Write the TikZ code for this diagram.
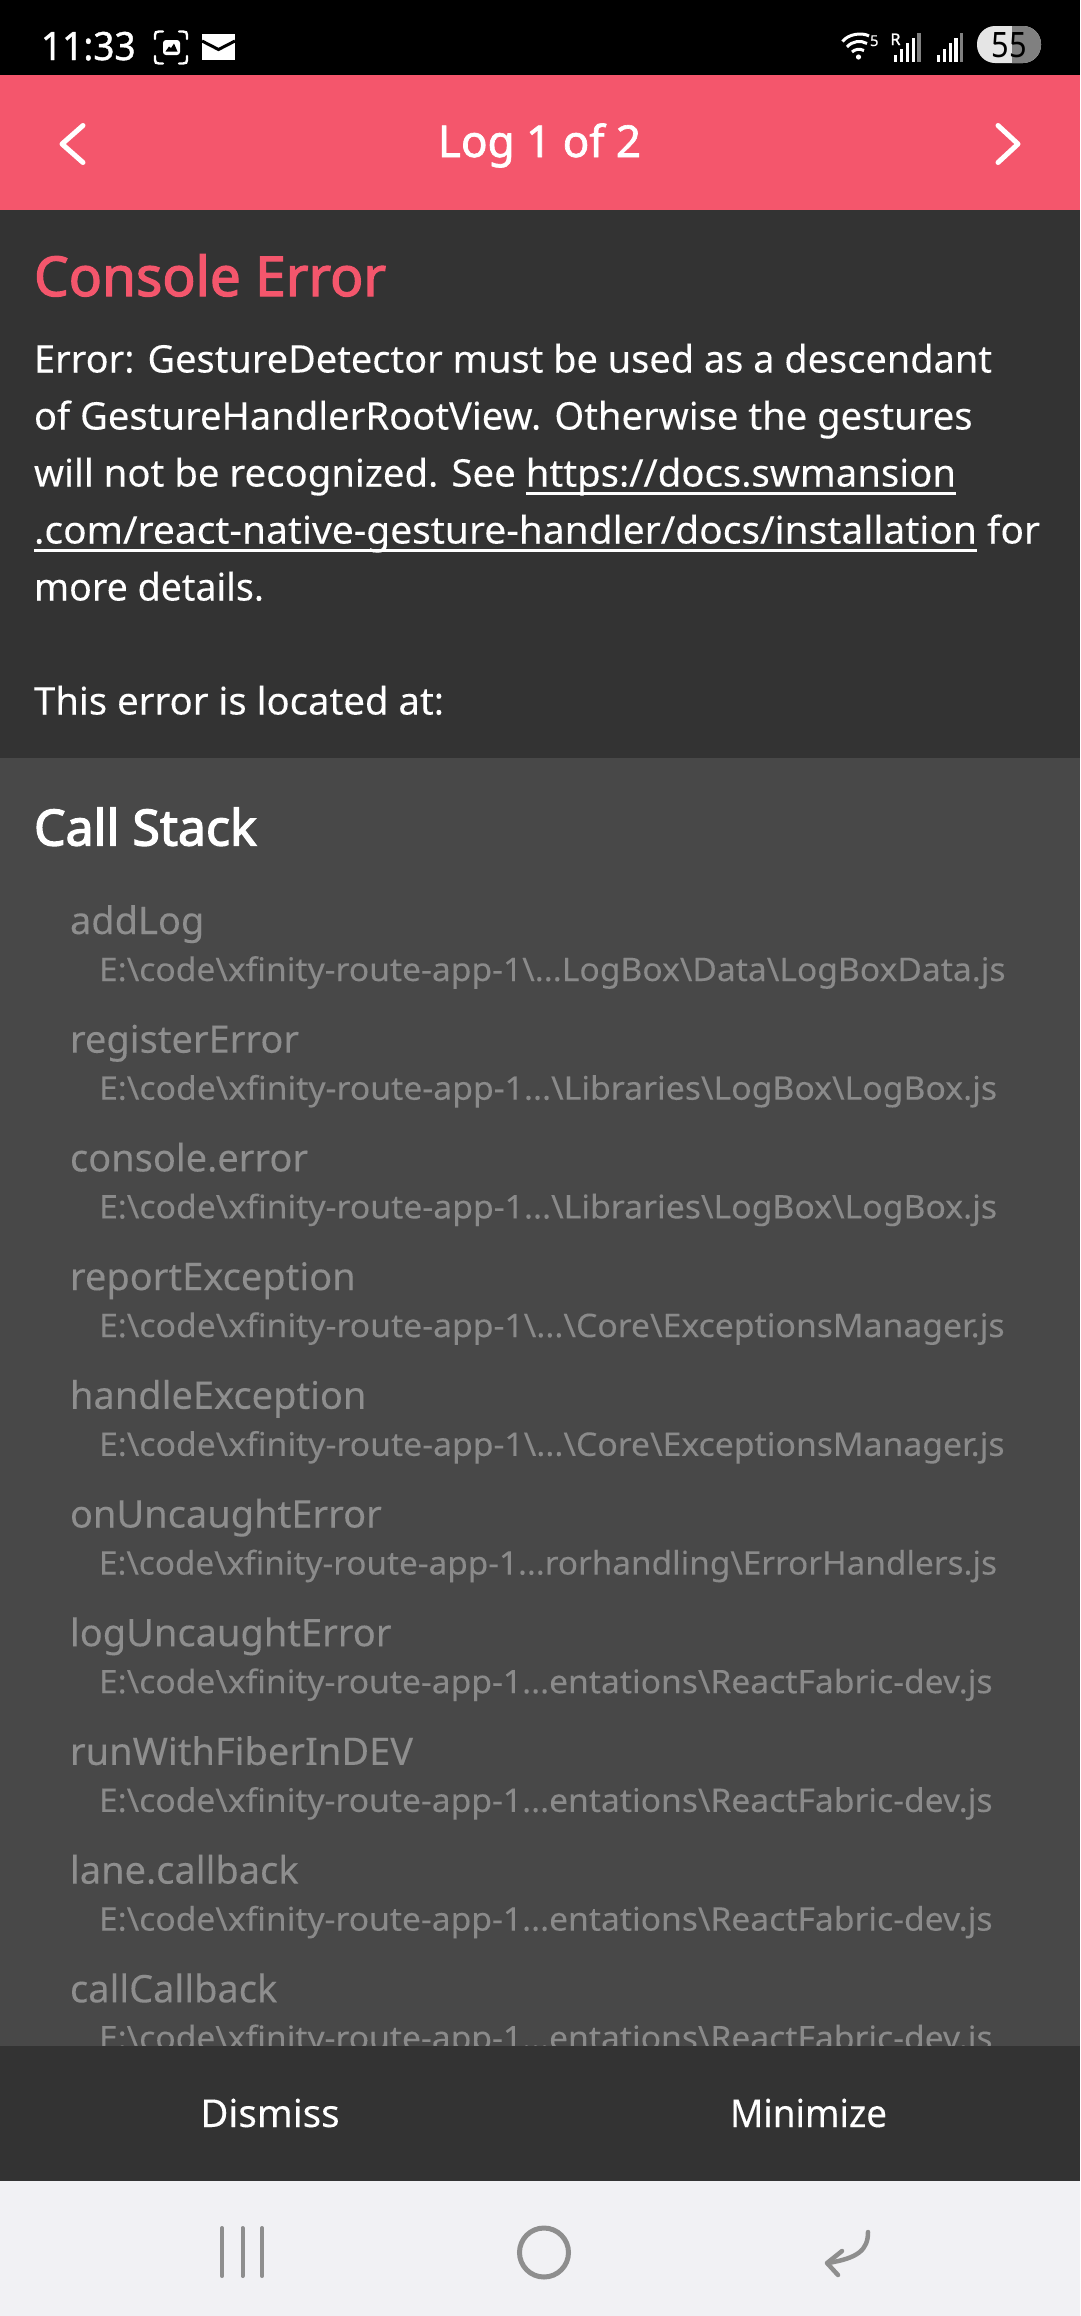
\documentclass[tikz,border=0pt]{standalone}
\usepackage{fontspec}
\usepackage{graphicx}
\setmainfont{Noto Sans}
\newfontfamily\narrowf[FakeStretch=0.88]{Noto Sans}
\newfontfamily\bodyf[FakeBold=0.15]{Noto Sans}
\newfontfamily\filef[FakeStretch=1.04,FakeBold=0.1]{Noto Sans}
\newfontfamily\headf[FakeBold=2.2]{Noto Sans}
\newfontfamily\medf[FakeBold=1.5]{Noto Sans}
\newfontfamily\callf[FakeBold=2.6]{Noto Sans}
\newfontfamily\timef[FakeStretch=0.95,FakeBold=1]{Noto Sans}
\definecolor{pinkbar}{HTML}{F4566C}
\definecolor{darkbar}{HTML}{333333}
\definecolor{stackbg}{HTML}{484848}
\definecolor{methodc}{HTML}{8E8E8E}
\definecolor{filec}{HTML}{8A8A8A}
\definecolor{navbg}{HTML}{F1F1F4}
\definecolor{navic}{HTML}{8E8E8E}
\newcommand{\bs}{\textbackslash}
\newcommand{\lnk}[1]{\setbox0\hbox{#1}\rlap{\raisebox{-8pt}{\rule{\wd0}{2.4pt}}}\box0\relax}
\newcommand{\fs}[1]{\fontsize{#1}{#1}\selectfont}
\newcommand{\fit}[2]{\resizebox{#1pt}{\height}{#2}}
\tikzset{
  txt/.style={inner sep=0pt,outer sep=0pt,anchor=base west},
  bodytxt/.style={txt,text=white,font=\bodyf\fs{38}},
  methodtxt/.style={txt,text=methodc,font=\bodyf\fs{38}},
  filetxt/.style={txt,text=filec,font=\filef\fs{32.5}},
  btntxt/.style={txt,anchor=base,text=white,font=\bodyf\fs{38.5}},
  chev/.style={white,line width=5pt,line cap=round,line join=round},
  navicon/.style={navic,line width=4.5pt,line cap=round,line join=round}
}
\newcommand{\stackrow}[4]{%
  \node[methodtxt] (m#1) at (70,{934+118.7*#1}) {#2};
  \node[filetxt] (f#1) at (99,{981+118.7*#1}) {\fit{#4}{#3}};}
\newcommand{\sigbars}[1]{%
  \fill[white] ({#1},{10+135/3}) rectangle ({#1+10/3},{10+155/3});
  \fill[white] ({#1+18/3},{10+118/3}) rectangle ({#1+28/3},{10+155/3});
  \fill[white] ({#1+36/3},{10+100/3}) rectangle ({#1+46/3},{10+155/3});
  \fill[white] ({#1+53/3},{10+85/3}) rectangle ({#1+63/3},{10+155/3});
  \fill[gray] ({#1+70/3},{10+70/3}) rectangle ({#1+80/3},{10+155/3});}
\begin{document}
\begin{tikzpicture}[x=1pt,y=-1pt]
\useasboundingbox (0,0) rectangle (1080,2316);
% panels
\fill[black] (0,0) rectangle (1080,75);
\fill[pinkbar] (0,75) rectangle (1080,210);
\fill[darkbar] (0,210) rectangle (1080,758);
\fill[stackbg] (0,758) rectangle (1080,2046);
% status bar left
\node[txt,text=white,font=\timef\fs{39}] (time) at (41,60) {11:33};
\draw[white,line width=2.4pt,line cap=round]
  (155,39) -- (155,35) .. controls (155,32.5) and (156,31.5) .. (159,31.5) -- (163,31.5)
  (179,31.5) -- (183,31.5) .. controls (186,31.5) and (187,32.5) .. (187,35) -- (187,39)
  (187,56) -- (187,60) .. controls (187,62.5) and (186,63.5) .. (183,63.5) -- (179,63.5)
  (163,63.5) -- (159,63.5) .. controls (156,63.5) and (155,62.5) .. (155,60) -- (155,56);
\fill[white,rounded corners=3pt] (163,40) rectangle (180,55);
\fill[black] (165.5,51.5) -- (169,46.5) -- (171,48) -- (174,43.5) -- (177.5,51.5) -- cycle;
\fill[white] (202,34) rectangle (235,60);
\draw[black,line width=3pt] (202,41) -- (218.5,49.5) -- (235,41);
% status bar right
\draw[white,line width=3pt]
  (842.5,41.5) .. controls (848,34) and (862,32) .. (869,36)
  (847,47) .. controls (852,41) and (861,40) .. (867,43.5)
  (852,52) .. controls (855,49) and (860,48.5) .. (864,50.5);
\fill[white] (858.5,57) circle[radius=2.6pt];
\node[txt,text=white,font=\bodyf\fs{15}] (wifi5) at (870,46) {5};
\node[txt,text=white,font=\medf\fs{16}] (rflag) at (890.5,45) {R};
\sigbars{894}
\sigbars{936.5}
\fill[rounded corners=18pt,fill=gray!20] (977,26) rectangle (1041,63);
\begin{scope}
\clip (1012,20) rectangle (1045,70);
\fill[rounded corners=18pt,fill=gray] (977,26) rectangle (1041,63);
\end{scope}
\node[txt,anchor=base,text=black,font=\narrowf\fs{35}] (batt) at (1009,57) {55};
% header
\node[txt,anchor=base,text=white,font=\medf\fs{44}] (title) at (539.5,157) {Log 1 of 2};
\coordinate (la) at (83,125.5); \coordinate (lb) at (62,144); \coordinate (lc) at (83,162.5);
\coordinate (ra) at (998,125.5); \coordinate (rb) at (1018,144); \coordinate (rc) at (998,162.5);
\draw[chev] (la) -- (lb) -- (lc);
\draw[chev] (ra) -- (rb) -- (rc);
% error text
\node[txt,text=pinkbar,font=\headf\fs{55}] (cons) at (34,296) {Console Error};
\node[bodytxt] (l1) at (34,372.5) {\fit{958}{Error: GestureDetector must be used as a descendant}};
\node[bodytxt] (l2) at (34,429.5) {\fit{938.5}{of GestureHandlerRootView. Otherwise the gestures}};
\node[bodytxt] (l3) at (34,486.5) {\fit{922}{will not be recognized. See \lnk{https://docs.swmansion}}};
\node[bodytxt] (l4) at (34,543.5) {\fit{1006}{\lnk{.com/react-native-gesture-handler/docs/installation} for}};
\node[bodytxt] (l5) at (34,600.5) {\fit{230}{more details.}};
\node[bodytxt] (l6) at (34,714.5) {\fit{410}{This error is located at:}};
% call stack
\node[txt,text=white,font=\callf\fs{50}] (cs) at (34,845.5) {Call Stack};
\stackrow{0}{addLog}{E:\bs code\bs xfinity-route-app-1\bs...LogBox\bs Data\bs LogBoxData.js}{906.5}
\stackrow{1}{registerError}{E:\bs code\bs xfinity-route-app-1...\bs Libraries\bs LogBox\bs LogBox.js}{898}
\stackrow{2}{console.error}{E:\bs code\bs xfinity-route-app-1...\bs Libraries\bs LogBox\bs LogBox.js}{898}
\stackrow{3}{reportException}{E:\bs code\bs xfinity-route-app-1\bs...\bs Core\bs ExceptionsManager.js}{905.5}
\stackrow{4}{handleException}{E:\bs code\bs xfinity-route-app-1\bs...\bs Core\bs ExceptionsManager.js}{905.5}
\stackrow{5}{onUncaughtError}{E:\bs code\bs xfinity-route-app-1...rorhandling\bs ErrorHandlers.js}{898}
\stackrow{6}{logUncaughtError}{E:\bs code\bs xfinity-route-app-1...entations\bs ReactFabric-dev.js}{893.5}
\stackrow{7}{runWithFiberInDEV}{E:\bs code\bs xfinity-route-app-1...entations\bs ReactFabric-dev.js}{893.5}
\stackrow{8}{lane.callback}{E:\bs code\bs xfinity-route-app-1...entations\bs ReactFabric-dev.js}{893.5}
\stackrow{9}{callCallback}{E:\bs code\bs xfinity-route-app-1...entations\bs ReactFabric-dev.js}{893.5}
% footer
\fill[darkbar] (0,2046) rectangle (1080,2181);
\node[btntxt] (dismiss) at (270,2127) {Dismiss};
\node[btntxt] (minimize) at (808.5,2127) {\fit{157}{Minimize}};
% nav bar
\fill[navbg] (0,2181) rectangle (1080,2316);
\draw[navic,line width=4pt,line cap=round] (222,2228) -- (222,2276) (242.5,2228) -- (242.5,2276) (262,2228) -- (262,2276);
\draw[navic,line width=5pt] (544,2252.5) circle[radius=24.5pt];
\draw[navicon] (868,2232) .. controls (868,2250) and (858,2258) .. (828,2263);
\draw[navicon] (842,2251) -- (827,2263) -- (838,2275);
\end{tikzpicture}
\end{document}
